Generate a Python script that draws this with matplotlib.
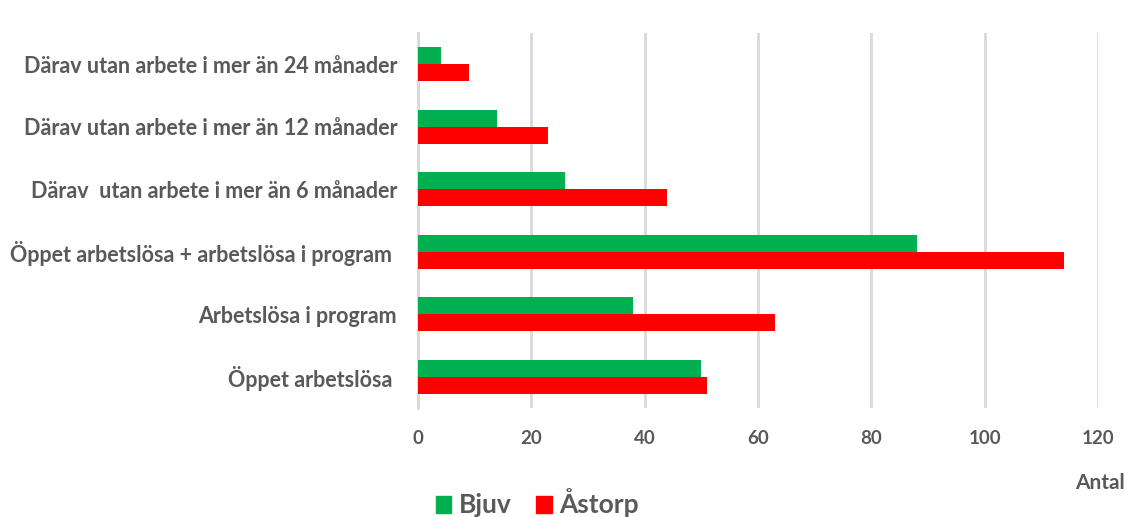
import matplotlib
matplotlib.use("Agg")
import matplotlib.pyplot as plt
from matplotlib.patches import Patch
import numpy as np

categories = [
    "Öppet arbetslösa ",
    "Arbetslösa i program",
    "Öppet arbetslösa + arbetslösa i program ",
    "Därav  utan arbete i mer än 6 månader",
    "Därav utan arbete i mer än 12 månader",
    "Därav utan arbete i mer än 24 månader",
]
bjuv = [50, 38, 88, 26, 14, 4]
astorp = [51, 63, 114, 44, 23, 9]
xticks = [0, 20, 40, 60, 80, 100, 120]

plt.rcParams['font.family'] = ['Lato', 'DejaVu Sans']
txt = '#595959'
green = '#00B050'
red = '#FF0000'

fig = plt.figure(figsize=(11.3, 5.17), dpi=100)
ax = fig.add_axes([418/1130, 1-408/517, (1098-418)/1130, (408-33)/517])

y = np.arange(len(categories))
h = 0.27
ax.barh(y + h/2, bjuv, height=h, color=green, label='Bjuv', zorder=3)
ax.barh(y - h/2, astorp, height=h, color=red, label='Åstorp', zorder=3)

ax.set_xlim(0, 120)
ax.set_ylim(-0.5, len(categories) - 0.5)
ax.set_xticks(xticks)
ax.set_xticklabels([str(t) for t in xticks])
ax.set_yticks(y)
ax.set_yticklabels(categories)
ax.grid(axis='x', color='#d9d9d9', linewidth=2, zorder=0)
for s in ['top', 'right', 'bottom']:
    ax.spines[s].set_visible(False)
ax.spines['left'].set_color('#d9d9d9')
ax.spines['left'].set_linewidth(2)
ax.tick_params(axis='both', length=0)
ax.tick_params(axis='x', pad=16, labelsize=13.5, labelcolor=txt)
ax.tick_params(axis='y', pad=15, labelsize=15.5, labelcolor=txt)
for lab in ax.get_yticklabels() + ax.get_xticklabels():
    lab.set_fontweight('bold')

fig.text(1100/1130, 1-483/517, 'Antal', ha='center', va='center',
         fontsize=15, color=txt, fontweight='bold')

handles = [Patch(color=green), Patch(color=red)]
leg = fig.legend(handles, ['Bjuv', 'Åstorp'], loc='center left',
                 bbox_to_anchor=(425/1130, 1-503/517), ncol=2, frameon=False,
                 prop={'size': 19, 'weight': 'bold'},
                 handlelength=0.6, handleheight=0.6,
                 handletextpad=0.3, columnspacing=0.9, borderaxespad=0)
for t in leg.get_texts():
    t.set_color(txt)

fig.savefig('out.png', dpi=100)
